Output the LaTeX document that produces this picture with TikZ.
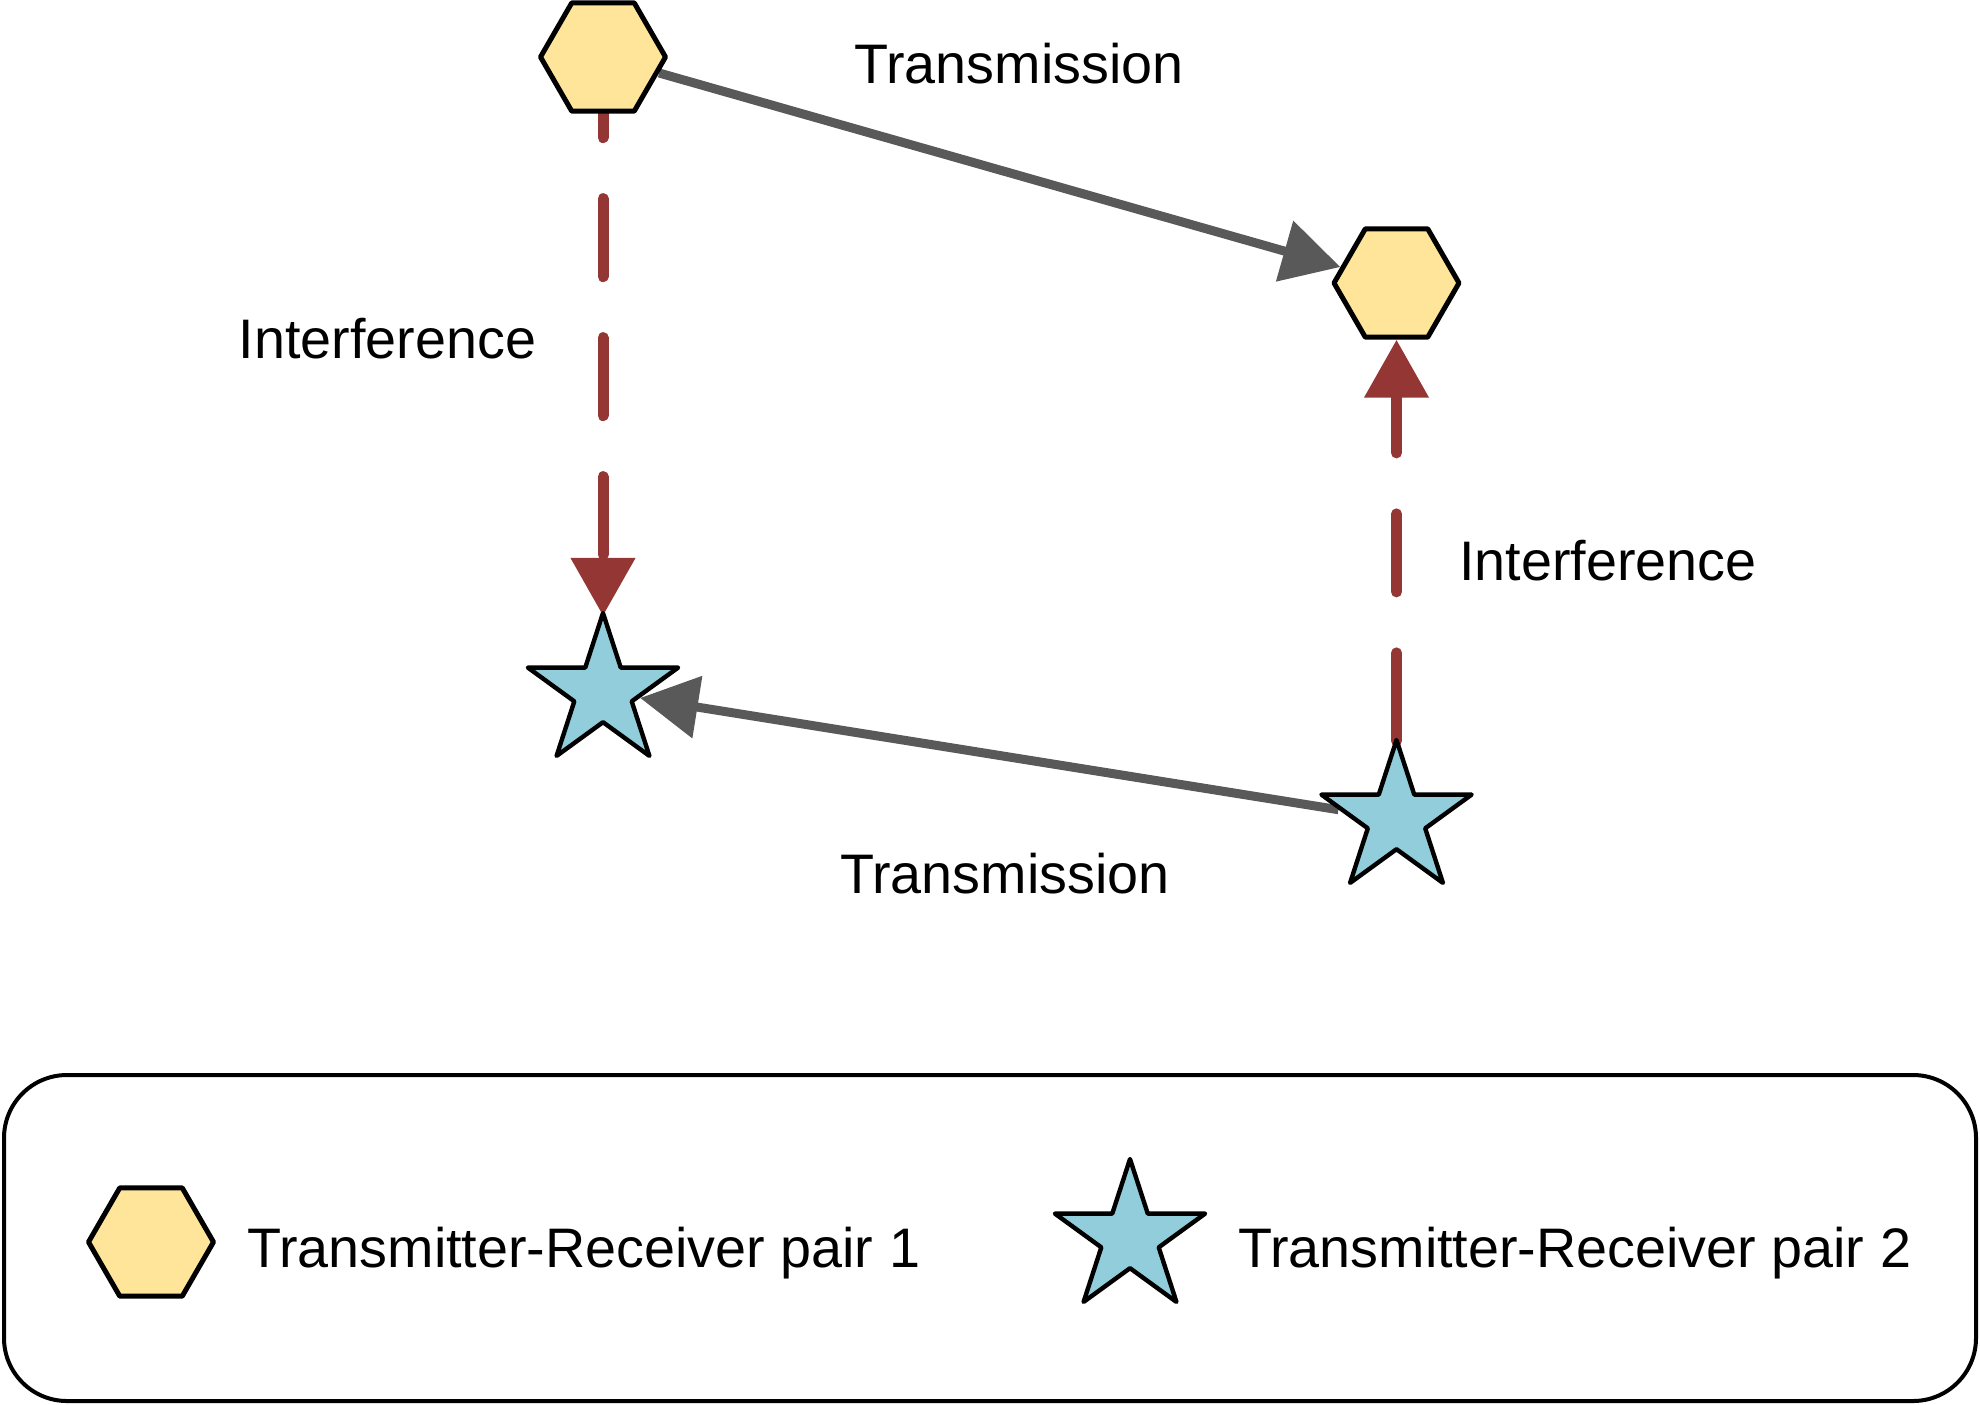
\documentclass[tikz,border=0pt]{standalone}
\usepackage{fontspec}
\setmainfont{Liberation Sans}
\usetikzlibrary{shapes.geometric,arrows.meta,backgrounds}
\definecolor{hexfill}{HTML}{FFE599}
\definecolor{starfill}{HTML}{92CDDC}
\definecolor{intred}{HTML}{943634}
\definecolor{txgray}{HTML}{595959}
\begin{document}
\begin{tikzpicture}[x=0.5pt,y=-0.5pt,
 hexnode/.style={regular polygon, regular polygon sides=6, minimum size=62.5pt, inner sep=0pt, draw=black, line width=2.5pt, fill=hexfill, line join=round},
 starnode/.style={star, star points=5, star point ratio=2.618, minimum size=79pt, inner sep=0pt, draw=black, line width=2.2pt, fill=starfill, line join=round},
 txarrow/.style={draw=txgray, line width=4.5pt, -{Triangle[length=29pt,width=30.5pt]}},
 intarrow/.style={draw=intred, line width=5.5pt, line cap=round, dash pattern=on 39pt off 30.5pt, -{Triangle[length=29pt,width=31pt]}},
 lbl/.style={font=\fontsize{27.85}{33}\selectfont, inner sep=0pt, anchor=base}]
\useasboundingbox (0,0) rectangle (1980,1404);
% main nodes
\node[hexnode] (h1) at (603,57) {};
\node[hexnode] (h2) at (1396.5,283) {};
\node[starnode] (s1) at (603,692) {};
\node[starnode] (s2) at (1396.5,819) {};
% labels
\node[lbl] (t1) at (1019,83) {Transmission};
\node[lbl] (t2) at (1005,893) {Transmission};
\node[lbl] (i1) at (387.5,358) {Interference};
\node[lbl] (i2) at (1608,580) {Interference};
% legend
\node[draw, line width=2pt, rounded corners=31.5pt, minimum width=986pt, minimum height=163pt, inner sep=0pt] (legend) at (990,1238) {};
\node[hexnode] (lh) at (151,1242) {};
\node[starnode] (ls) at (1130,1238) {};
\node[lbl, anchor=base west] (lt1) at (247,1267) {Transmitter-Receiver pair 1};
\node[lbl, anchor=base west] (lt2) at (1238,1267) {Transmitter-Receiver pair 2};
% connectors
\begin{pgfonlayer}{background}
\draw[txarrow] (h1) -- (h2);
\draw[txarrow] (s2) -- (s1);
\draw[intarrow, dash phase=27pt, shorten >=-5pt] (h1) -- (s1);
\draw[intarrow, dash pattern=on 44pt off 30.5pt on 39pt off 30.5pt on 120pt off 10pt, shorten <=-4pt] (s2) -- (h2);
\end{pgfonlayer}
\end{tikzpicture}
\end{document}
